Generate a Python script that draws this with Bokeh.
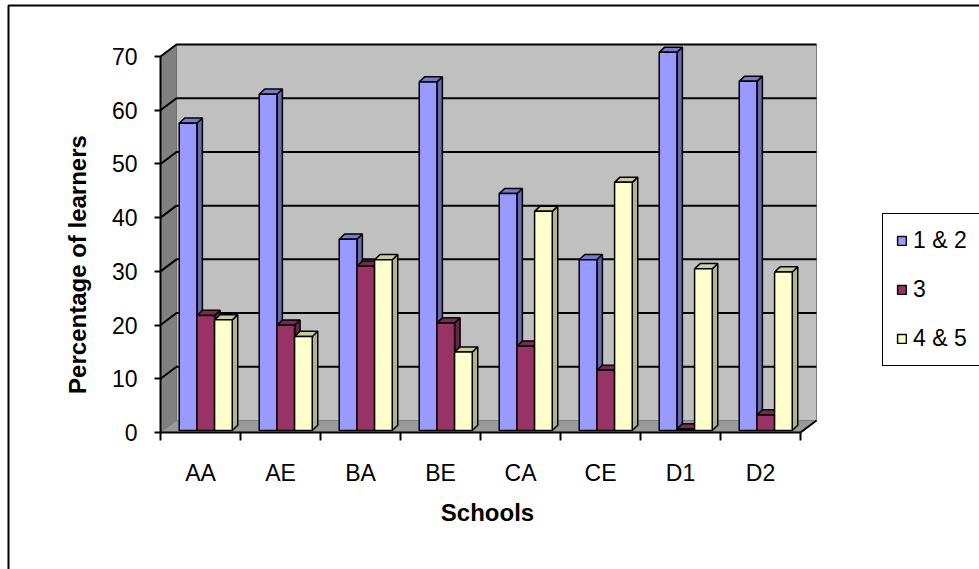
from bokeh.plotting import figure
from bokeh.models import (FixedTicker, Range1d, Label, Legend, LegendItem,
                          BoxAnnotation)
from bokeh.embed import file_html
from bokeh.resources import INLINE

# ---- data -------------------------------------------------------------
schools = ["AA", "AE", "BA", "BE", "CA", "CE", "D1", "D2"]
series_names = ["1 & 2", "3", "4 & 5"]
grp_12 = [57.2, 62.6, 35.6, 64.9, 44.1, 31.8, 70.4, 65.0]
grp_3 = [21.4, 19.6, 30.6, 20.0, 15.7, 11.2, 0.3, 2.9]
grp_45 = [20.6, 17.5, 31.8, 14.6, 40.8, 46.2, 30.1, 29.5]
y_ticks = [0, 10, 20, 30, 40, 50, 60, 70]

# ---- styling ----------------------------------------------------------
front_cols = ["#9999FF", "#993366", "#FFFFCC"]
side_cols = ["#6666B3", "#6B2447", "#B3B38F"]
top_cols = ["#7A7ACC", "#7A2952", "#CCCCA3"]
FONT = "Liberation Sans"

W, H = 979, 569
PX_X = 80.0                 # pixels per category
PX_Y = 376.0 / 70.0         # pixels per percentage point
ORIGIN_X, ORIGIN_Y = 160, 432   # pixel position of the value/category origin


def dx(px):
    """Horizontal pixel position -> category coordinate."""
    return (px - ORIGIN_X) / PX_X - 0.5


def dy(py):
    """Vertical pixel position (from top) -> value coordinate."""
    return (ORIGIN_Y - py) / PX_Y


# depth of the box (back wall offset) and of each bar, in data units
BOX_DX, BOX_DY = 16 / PX_X, 12 / PX_Y
BAR_DX, BAR_DY = 5.5 / PX_X, 5.2 / PX_Y
BAR_BASE = 2.0 / PX_Y       # bars stand slightly behind the front edge
BAR_W = 0.221
BAR_X0 = -0.266

n = len(schools)
x_lo, x_hi = -0.5, n - 0.5
y_top = max(y_ticks)

p = figure(width=W, height=H, output_backend="svg", toolbar_location=None,
           x_range=Range1d(dx(0), dx(W)), y_range=Range1d(dy(H), dy(0)),
           background_fill_color="white", border_fill_color="white")
p.min_border = 0
p.min_border_left = p.min_border_right = 0
p.min_border_top = p.min_border_bottom = 0
p.outline_line_color = None
p.xgrid.visible = False
p.ygrid.visible = False

# ---- chart area border (left and top edges) ---------------------------
p.add_layout(BoxAnnotation(left=dx(8), right=dx(W + 200),
                           top=dy(5), bottom=dy(H + 200),
                           fill_alpha=0, line_color="black", line_alpha=1,
                           line_width=2))

# ---- walls and floor --------------------------------------------------
p.patch([x_lo + BOX_DX, x_hi + BOX_DX, x_hi + BOX_DX, x_lo + BOX_DX],
        [BOX_DY, BOX_DY, y_top + BOX_DY, y_top + BOX_DY],
        fill_color="#C0C0C0", line_color="#808080", line_width=1)
p.patch([x_lo, x_lo + BOX_DX, x_lo + BOX_DX, x_lo],
        [0, BOX_DY, y_top + BOX_DY, y_top],
        fill_color="#808080", line_color="#707070", line_width=1)
p.patch([x_lo, x_hi, x_hi + BOX_DX, x_lo + BOX_DX],
        [0, 0, BOX_DY, BOX_DY],
        fill_color="#999999", line_color="#808080", line_width=1)

# gridlines across the left and back walls
grid_xs = [[x_lo, x_lo + BOX_DX, x_hi + BOX_DX] for v in y_ticks[1:]]
grid_ys = [[v, v + BOX_DY, v + BOX_DY] for v in y_ticks[1:]]
p.multi_line(grid_xs, grid_ys, line_color="black", line_width=2)
# right edge of the floor
p.line([x_hi, x_hi + BOX_DX], [0, BOX_DY], line_color="black", line_width=2)

# ---- 3D columns -------------------------------------------------------
series = [grp_12, grp_3, grp_45]
legend_items = []
for j, vals in enumerate(series):
    x0 = [i + BAR_X0 + j * BAR_W for i in range(n)]
    x1 = [x + BAR_W for x in x0]
    tops = [v + BAR_BASE for v in vals]
    side_xs = [[a, a + BAR_DX, a + BAR_DX, a] for a in x1]
    side_ys = [[BAR_BASE, BAR_BASE + BAR_DY, t + BAR_DY, t] for t in tops]
    top_xs = [[a, b, b + BAR_DX, a + BAR_DX] for a, b in zip(x0, x1)]
    top_ys = [[t, t, t + BAR_DY, t + BAR_DY] for t in tops]
    p.patches(side_xs, side_ys, fill_color=side_cols[j], line_color="black",
              line_width=1.5)
    p.patches(top_xs, top_ys, fill_color=top_cols[j], line_color="black",
              line_width=1.5)
    r = p.quad(left=x0, right=x1, bottom=BAR_BASE, top=tops,
               fill_color=front_cols[j], line_color="black", line_width=1.5)
    legend_items.append(LegendItem(label=series_names[j], renderers=[r]))

# ---- axes (pinned to the front edges of the box) ----------------------
yax = p.yaxis[0]
yax.fixed_location = x_lo
yax.ticker = FixedTicker(ticks=y_ticks)
yax.bounds = (0, y_top)
yax.axis_line_width = 2
yax.axis_line_color = "black"
yax.major_tick_line_width = 2
yax.major_tick_line_color = "black"
yax.major_tick_out = 6
yax.major_tick_in = 0
yax.minor_tick_line_color = None
yax.major_label_standoff = 17
yax.major_label_text_font = FONT
yax.major_label_text_font_size = "23px"
yax.major_label_text_color = "black"

xax = p.xaxis[0]
xax.fixed_location = 0
xax.ticker = FixedTicker(ticks=list(range(n)),
                         minor_ticks=[i - 0.5 for i in range(n + 1)])
xax.major_label_overrides = {i: s for i, s in enumerate(schools)}
xax.bounds = (x_lo, x_hi)
xax.axis_line_width = 2
xax.axis_line_color = "black"
xax.major_tick_out = 0
xax.major_tick_in = 0
xax.minor_tick_out = 8
xax.minor_tick_in = 0
xax.minor_tick_line_width = 2
xax.minor_tick_line_color = "black"
xax.major_label_standoff = 19
xax.major_label_text_font = FONT
xax.major_label_text_font_size = "23px"
xax.major_label_text_color = "black"

# ---- axis titles ------------------------------------------------------
p.add_layout(Label(x=dx(487), y=dy(512),
                   text="Schools", text_font=FONT, text_font_size="24px",
                   text_font_style="bold", text_color="black",
                   text_align="center", text_baseline="middle"))
p.add_layout(Label(x=dx(77), y=dy(264),
                   text="Percentage of learners", angle=1.5707963,
                   text_font=FONT, text_font_size="24px",
                   text_font_style="bold", text_color="black",
                   text_align="center", text_baseline="middle"))

# ---- legend -----------------------------------------------------------
legend = Legend(items=legend_items, location=(882, 203),
                label_text_font=FONT, label_text_font_size="23px",
                label_text_color="black",
                glyph_width=11, glyph_height=11, label_standoff=6,
                spacing=22, padding=13, margin=0,
                border_line_color="black", border_line_alpha=1,
                border_line_width=1.5,
                background_fill_color="white", background_fill_alpha=1)
p.add_layout(legend)

open("out.html", "w").write(file_html(p, INLINE))
